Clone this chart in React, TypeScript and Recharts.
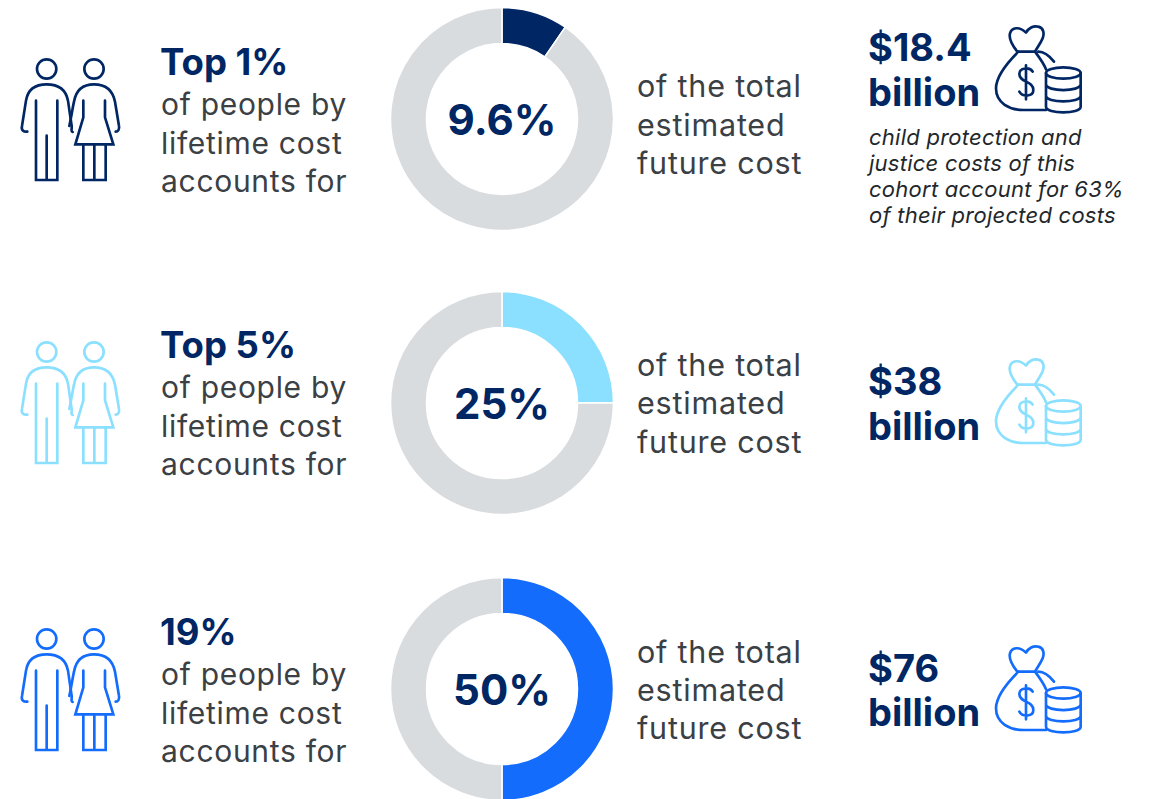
import { PieChart, Pie, Cell, Label } from 'recharts'

const headings = ['Top 1%', 'Top 5%', '19%']
const shares = [9.6, 25, 50]
const shareLabels = ['9.6%', '25%', '50%']
const costs = ['$18.4', '$38', '$76']
const rowColors = ['#002664', '#8CE0FF', '#146CFD']
const note = [
  'child protection and',
  'justice costs of this',
  'cohort account for 63%',
  'of their projected costs',
]
const peopleLines = ['of people by', 'lifetime cost', 'accounts for']
const middleLines = ['of the total', 'estimated', 'future cost']

const NAVY = '#002664'
const GREY_TEXT = '#3b4045'
const TRACK = '#D9DCDE'
const FONT = 'Inter, "Noto Sans", sans-serif'

const rowOffsets = [0, 283, 570]
const centerY = [119, 403, 689]
const middleBaselines = [[97, 136, 174], [376, 414, 453], [663, 701, 739]]
const costBaselines = [[61, 106], [395, 440], [682, 726]]
const bagOffsets = [0, 333, 620]

function People({ color, dy }: { color: string; dy: number }) {
  return (
    <g
      transform={`translate(0 ${30 + dy}) scale(${1 / 3})`}
      fill="none"
      stroke={color}
      strokeWidth={8}
      strokeLinejoin="miter"
      strokeLinecap="round"
    >
      <circle cx={140} cy={117} r={29} />
      <path d="M82 305 C70 306 63 300 66 288 L78 212 C83 180 105 163 140 163 C175 163 198 180 204 212 L215 288 C216 298 212 305 218 306" />
      <path d="M108 212 V450 H172 V212 M140 317 V450" />
      <circle cx={282} cy={117} r={29} />
      <path d="M208 288 C216 250 218 232 222 215 C228 180 250 163 282 163 C315 163 338 180 345 215 L357 288 C359 298 354 305 347 305" />
      <path d="M250 212 V262 L226 343 H340 L315 262 V212 M250 343 V450 H317 V343 M283 343 V450" />
    </g>
  )
}

function MoneyBag({ color, dy }: { color: string; dy: number }) {
  return (
    <g
      transform={`translate(860 ${10 + dy}) scale(${1 / 3})`}
      fill="none"
      stroke={color}
      strokeWidth={8}
      strokeLinecap="round"
      strokeLinejoin="round"
    >
      <path d="M472 125 C456 105 446 85 450 70 C455 52 478 48 498 68 C505 55 520 46 535 50 C552 54 553 72 548 85 C542 100 532 112 525 125 Z" />
      <path d="M475 125 C440 160 408 198 408 235 C408 280 450 300 490 300 H558" />
      <path d="M525 125 C540 145 552 162 558 178 M535 125 C555 125 570 140 582 155" />
      <path d="M518 185 C510 170 478 172 478 192 C478 218 520 212 520 240 C520 260 488 262 478 245 M498 166 V268" />
      <ellipse cx={610} cy={189} rx={52} ry={17} />
      <path d="M558 189 V290 C558 313 662 313 662 290 V189 M558 223 C558 246 662 246 662 223 M558 257 C558 280 662 280 662 257" />
    </g>
  )
}

export default function App() {
  return (
    <div style={{ position: 'absolute', left: 0, top: 0, width: 1153, height: 799, background: '#fff', overflow: 'hidden' }}>
      {shares.map((share, i) => (
        <div key={i} style={{ position: 'absolute', left: 382, top: centerY[i] - 120 }}>
          <PieChart width={240} height={240} margin={{ top: 0, right: 0, bottom: 0, left: 0 }}>
            <Pie
              data={[
                { name: 'share', value: share },
                { name: 'rest', value: 100 - share },
              ]}
              dataKey="value"
              cx={120}
              cy={120}
              innerRadius={75.5}
              outerRadius={111.5}
              startAngle={90}
              endAngle={-270}
              stroke="#fff"
              strokeWidth={1.5}
              isAnimationActive={false}
            >
              <Cell fill={rowColors[i]} />
              <Cell fill={TRACK} />
              <Label
                value={shareLabels[i]}
                position="center"
                dy={1}
                fill={NAVY}
                style={{ fontFamily: FONT, fontWeight: 700, fontSize: 42 }}
              />
            </Pie>
          </PieChart>
        </div>
      ))}
      <svg width={1153} height={799} style={{ position: 'absolute', left: 0, top: 0, fontFamily: FONT }}>
        {rowOffsets.map((dy, i) => (
          <g key={i}>
            <People color={rowColors[i]} dy={dy} />
            <MoneyBag color={rowColors[i]} dy={bagOffsets[i]} />
            <text x={160} y={75 + dy} fill={NAVY} fontSize={36.5} fontWeight={700}>{headings[i]}</text>
            {peopleLines.map((line, j) => (
              <text key={line} x={161} y={115 + dy + j * 38.5} fill={GREY_TEXT} fontSize={30} letterSpacing={0.7}>{line}</text>
            ))}
            {middleLines.map((line, j) => (
              <text key={line} x={637} y={middleBaselines[i][j]} fill={GREY_TEXT} fontSize={30.5} letterSpacing={0.8}>{line}</text>
            ))}
            <text x={868} y={costBaselines[i][0]} fill={NAVY} fontSize={38} fontWeight={700}>{costs[i]}</text>
            <text x={868} y={costBaselines[i][1]} fill={NAVY} fontSize={38} fontWeight={700}>billion</text>
          </g>
        ))}
        {note.map((line, j) => (
          <text key={line} x={869} y={145 + j * 26} fill="#22272b" fontSize={22} letterSpacing={0.25} fontStyle="italic">{line}</text>
        ))}
      </svg>
    </div>
  )
}
